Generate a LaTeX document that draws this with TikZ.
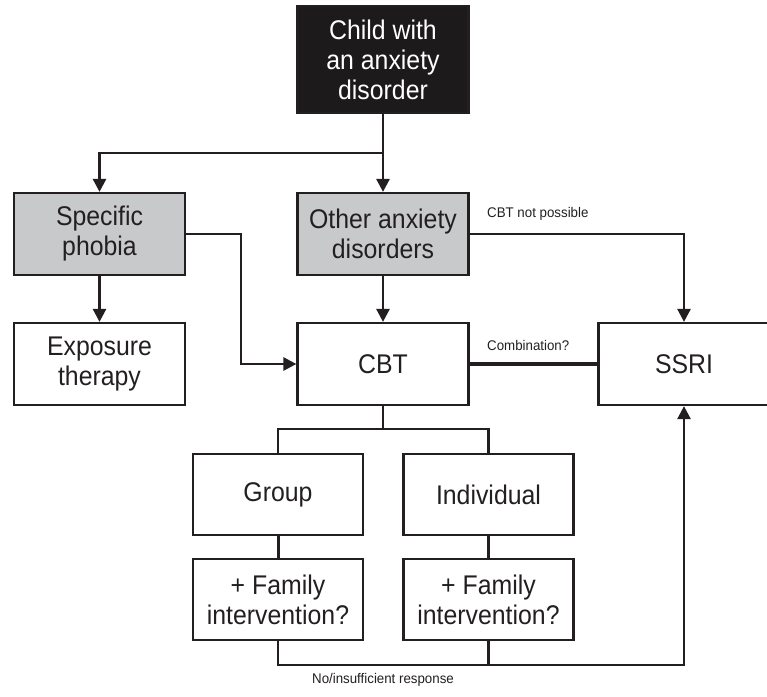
\documentclass[tikz,border=0pt]{standalone}
\usepackage{fontspec}
\setmainfont{Liberation Sans}
\newfontfamily\narrowsans{Liberation Sans}[FakeStretch=0.92]
\newfontfamily\smallsans{Liberation Sans}[FakeStretch=0.95]
\usetikzlibrary{arrows.meta,positioning}
\definecolor{ink}{HTML}{231F20}
\definecolor{boxgray}{HTML}{C8C9CB}
\definecolor{boxblack}{HTML}{1C1A1B}
\tikzset{
  box/.style={draw=ink,line width=2.2pt,minimum width=171pt,minimum height=82pt,inner sep=0pt,
    align=center,font=\narrowsans\fontsize{27}{30}\selectfont,text=ink},
  graybox/.style={box,fill=boxgray},
  blackbox/.style={box,fill=boxblack,text=white,minimum height=107pt},
  conn/.style={draw=ink,line width=2.6pt},
  arr/.style={conn,-{Triangle[length=13pt,width=13pt]}},
  lbl/.style={font=\smallsans\fontsize{14}{16}\selectfont,text=ink,inner sep=0pt}
}
\begin{document}
\begin{tikzpicture}[x=1pt,y=1pt]
\useasboundingbox (0,0) rectangle (767,-696);
\node[blackbox] (child) at (383,-59.5) {Child with\\an anxiety\\disorder};
\node[graybox] (phobia) at (99.5,-234) {Specific\\phobia};
\node[graybox] (other) at (383,-234) {Other anxiety\\disorders};
\node[box] (expo) at (99.5,-364) {Exposure\\therapy};
\node[box] (cbt) at (383,-364) {CBT};
\node[box] (ssri) at (684,-364) {SSRI};
\node[box,minimum width=170pt,minimum height=81pt] (group) at (278,-494.5) {Group};
\node[box,minimum width=170pt,minimum height=81pt] (indiv) at (488.5,-494.5) {Individual};
\node[box,minimum width=170pt,minimum height=81pt] (fam1) at (278,-599.5) {+ Family\\intervention?};
\node[box,minimum width=170pt,minimum height=81pt] (fam2) at (488.5,-599.5) {+ Family\\intervention?};

\coordinate (split) at (383,-153);
\coordinate (cbtsplit) at (383,-429);
\coordinate (phobiabend) at (241,-234);
\coordinate (bottomleft) at (278,-665);
\coordinate (bottomright) at (684,-665);

\draw[conn] (child.south) -- (split);
\draw[arr] (split) -- (other.north);
\draw[arr] (split) -| (phobia.north);
\draw[arr] (phobia.south) -- (expo.north);
\draw[arr] (other.south) -- (cbt.north);
\draw[arr] (phobia.east) -- (phobiabend) |- (cbt.west);
\draw[arr] (other.east) -| (ssri.north);
\draw[conn,line width=3.4pt] (cbt.east) -- (ssri.west);
\draw[conn] (cbt.south) -- (cbtsplit);
\draw[conn] (group.north) |- (cbtsplit) -| (indiv.north);
\draw[conn,line width=3pt] (group.south) -- (fam1.north);
\draw[conn,line width=3pt] (indiv.south) -- (fam2.north);
\draw[arr] (fam1.south) -- (bottomleft) -- (bottomright) -- (ssri.south);
\draw[conn] (fam2.south) -- (fam2.south |- bottomleft);

\node[lbl,anchor=west] (lnp) at (487,-214) {CBT not possible};
\node[lbl,anchor=west] (lcomb) at (487,-345) {Combination?};
\node[lbl] (lresp) at (383,-680) {No/insufficient response};
\end{tikzpicture}
\end{document}
